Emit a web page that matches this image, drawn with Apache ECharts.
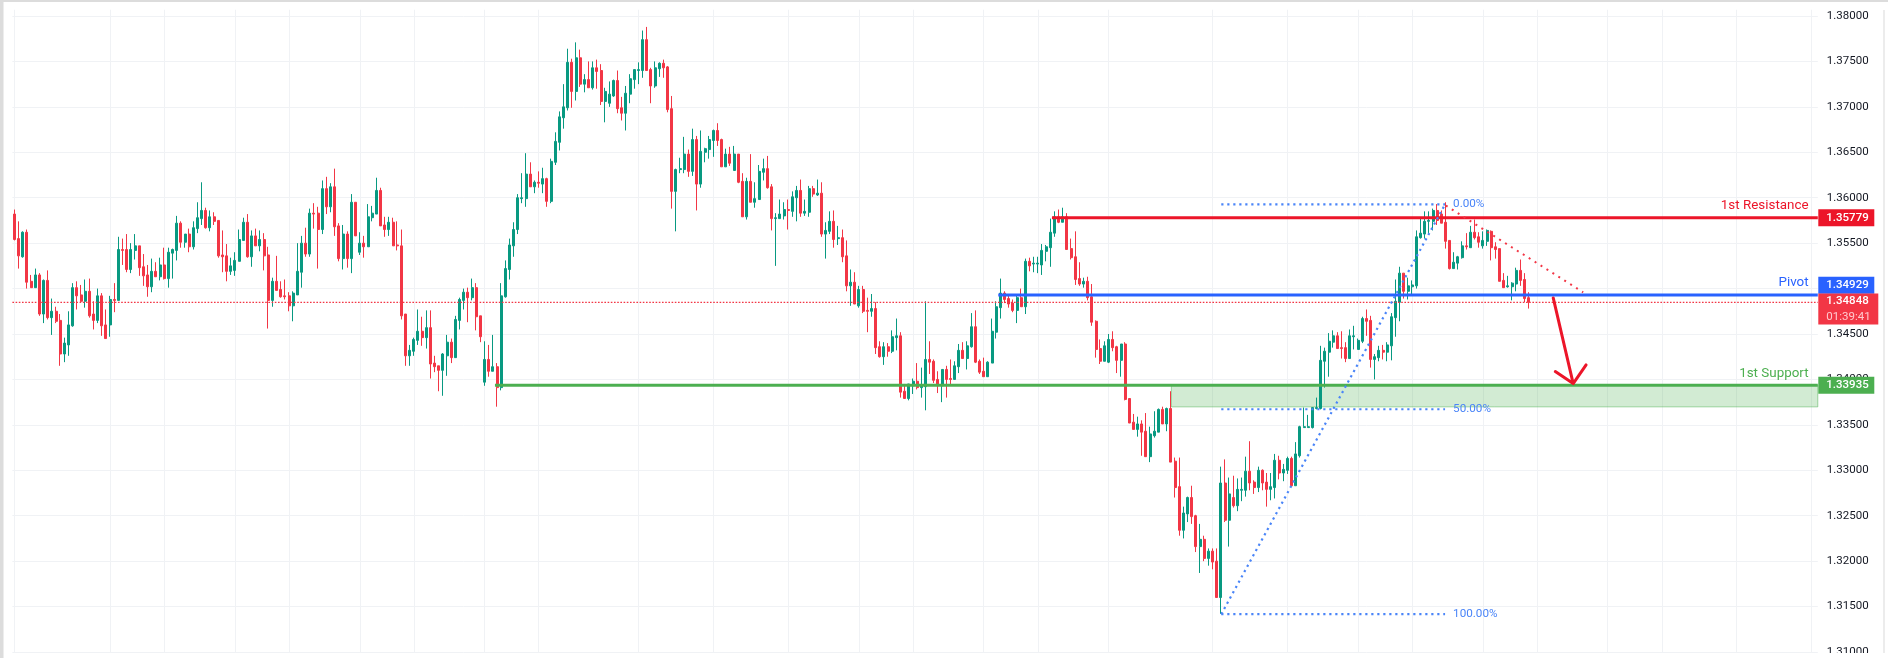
<!DOCTYPE html>
<html>
<head>
<meta charset="utf-8">
<title>GBP 1st Resistance / Pivot / 1st Support</title>
<script src="https://cdn.jsdelivr.net/npm/echarts@6/dist/echarts.min.js"></script>
<style>
  html, body { margin: 0; padding: 0; background: #fff; }
  #chart { width: 1888px; height: 658px; }
</style>
</head>
<body>
<div id="chart"></div>
<script>
// open, close, low, high in 1/10000 of a price unit
const candles = [
[13582,13554,13553,13587],[13555,13536,13522,13574],[13535,13562,13534,13563],[13562,13507,13500,13565],[13508,13501,13501,13515],
[13501,13515,13501,13522],[13515,13472,13470,13517],[13472,13509,13462,13510],[13509,13468,13466,13520],[13468,13475,13449,13489],
[13475,13464,13462,13480],[13465,13428,13415,13472],[13428,13440,13419,13446],[13438,13460,13426,13475],[13459,13501,13458,13506],
[13501,13492,13477,13508],[13493,13486,13485,13504],[13486,13497,13479,13510],[13497,13470,13468,13511],[13472,13465,13455,13486],
[13465,13492,13462,13500],[13492,13459,13448,13495],[13460,13445,13445,13477],[13460,13488,13447,13492],[13488,13487,13474,13506],
[13487,13543,13487,13557],[13543,13542,13526,13555],[13543,13521,13518,13560],[13521,13543,13517,13550],[13542,13547,13532,13560],
[13547,13523,13514,13547],[13524,13514,13503,13538],[13515,13502,13491,13526],[13502,13519,13496,13533],[13519,13513,13513,13529],
[13513,13526,13509,13534],[13526,13511,13510,13545],[13511,13540,13501,13545],[13539,13543,13511,13544],[13542,13572,13531,13580],
[13572,13551,13545,13574],[13551,13560,13545,13560],[13560,13546,13540,13566],[13546,13567,13543,13574],[13566,13578,13561,13595],
[13577,13586,13570,13617],[13586,13567,13566,13589],[13567,13579,13563,13586],[13579,13574,13570,13584],[13575,13536,13534,13575],
[13537,13535,13518,13564],[13536,13519,13508,13549],[13519,13525,13515,13534],[13520,13531,13514,13540],[13530,13554,13530,13565],
[13553,13573,13553,13578],[13573,13535,13534,13582],[13535,13558,13524,13564],[13558,13547,13547,13566],[13547,13554,13541,13564],
[13554,13536,13520,13561],[13537,13487,13456,13546],[13487,13508,13480,13512],[13508,13498,13498,13536],[13499,13491,13490,13508],
[13492,13491,13488,13510],[13492,13481,13475,13496],[13481,13495,13464,13497],[13493,13519,13493,13550],[13518,13550,13501,13558],
[13550,13538,13535,13567],[13538,13583,13535,13588],[13583,13582,13566,13594],[13583,13565,13522,13590],[13565,13610,13560,13619],
[13610,13590,13582,13623],[13590,13612,13584,13616],[13612,13568,13558,13632],[13569,13533,13530,13572],[13533,13560,13521,13570],
[13560,13533,13523,13563],[13533,13595,13517,13604],[13595,13558,13558,13595],[13540,13550,13537,13562],[13550,13546,13534,13558],
[13546,13579,13546,13593],[13578,13583,13574,13591],[13582,13608,13582,13622],[13608,13569,13569,13611],[13570,13565,13557,13579],
[13565,13573,13558,13579],[13573,13547,13547,13578],[13548,13547,13542,13574],[13547,13470,13466,13565],[13472,13426,13415,13472],
[13426,13432,13415,13438],[13431,13444,13426,13446],[13443,13453,13438,13477],[13453,13446,13437,13469],[13446,13457,13434,13476],
[13457,13417,13401,13476],[13418,13414,13408,13426],[13415,13410,13387,13415],[13410,13428,13382,13429],[13426,13441,13404,13449],
[13441,13424,13418,13445],[13424,13466,13424,13470],[13465,13488,13455,13490],[13487,13496,13477,13500],[13496,13490,13463,13501],
[13490,13501,13487,13511],[13501,13469,13454,13506],[13470,13447,13441,13470],[13397,13422,13393,13442],[13422,13409,13403,13438],
[13409,13414,13409,13449],[13414,13391,13370,13418],[13391,13492,13388,13506],[13491,13522,13490,13531],[13521,13548,13510,13555],
[13547,13565,13535,13573],[13565,13600,13560,13604],[13599,13600,13594,13627],[13599,13626,13590,13649],[13626,13612,13612,13639],
[13612,13617,13605,13619],[13617,13616,13611,13629],[13615,13621,13605,13633],[13621,13596,13590,13622],[13596,13640,13594,13643],
[13639,13662,13636,13672],[13661,13689,13652,13695],[13688,13700,13676,13725],[13699,13749,13696,13764],[13749,13717,13699,13753],
[13717,13754,13707,13771],[13754,13725,13722,13763],[13725,13730,13716,13736],[13730,13721,13721,13750],[13721,13743,13719,13750],
[13743,13739,13720,13752],[13740,13706,13702,13747],[13706,13717,13683,13721],[13704,13714,13700,13728],[13712,13729,13711,13730],
[13729,13698,13693,13740],[13699,13693,13685,13711],[13693,13715,13674,13723],[13714,13731,13704,13736],[13730,13741,13720,13741],
[13740,13741,13725,13749],[13740,13774,13732,13784],[13774,13740,13740,13788],[13741,13723,13704,13743],[13723,13743,13721,13750],
[13742,13748,13733,13749],[13748,13743,13732,13752],[13744,13697,13694,13745],[13698,13607,13588,13712],[13607,13631,13563,13632],
[13631,13632,13627,13644],[13631,13648,13627,13667],[13648,13629,13623,13653],[13629,13664,13624,13676],[13664,13615,13586,13668],
[13615,13651,13611,13674],[13650,13654,13639,13655],[13653,13664,13643,13668],[13663,13674,13645,13675],[13674,13663,13657,13682],
[13664,13634,13634,13665],[13634,13648,13634,13654],[13648,13638,13635,13656],[13630,13648,13630,13657],[13648,13617,13616,13648],
[13618,13579,13579,13627],[13579,13618,13576,13622],[13618,13595,13595,13648],[13595,13599,13589,13617],[13598,13629,13598,13636],
[13628,13632,13619,13643],[13632,13611,13610,13646],[13612,13577,13564,13615],[13577,13578,13525,13583],[13577,13582,13577,13598],
[13580,13587,13576,13595],[13587,13586,13565,13598],[13585,13601,13579,13607],[13600,13608,13574,13613],[13608,13583,13579,13620],
[13583,13585,13580,13598],[13584,13610,13579,13613],[13610,13604,13601,13613],[13603,13605,13602,13620],[13605,13560,13557,13617],
[13560,13564,13533,13573],[13563,13574,13560,13585],[13574,13554,13545,13586],[13555,13556,13548,13569],[13556,13535,13529,13565],
[13536,13503,13497,13553],[13503,13507,13481,13521],[13507,13483,13483,13518],[13481,13499,13479,13503],[13499,13475,13473,13503],
[13476,13475,13452,13490],[13475,13478,13469,13494],[13478,13435,13428,13485],[13436,13425,13424,13442],[13425,13436,13416,13441],
[13436,13431,13425,13440],[13431,13447,13429,13454],[13446,13448,13432,13467],[13448,13386,13380,13452],[13387,13379,13379,13395],
[13379,13395,13377,13395],[13393,13398,13384,13401],[13398,13391,13389,13418],[13391,13393,13380,13413],[13392,13422,13366,13486],
[13422,13419,13406,13442],[13420,13399,13396,13422],[13400,13393,13385,13409],[13393,13411,13375,13411],[13411,13400,13380,13415],
[13401,13400,13393,13422],[13400,13415,13400,13420],[13414,13432,13407,13439],[13432,13423,13423,13441],[13423,13437,13411,13442],
[13436,13458,13435,13473],[13458,13419,13418,13476],[13420,13408,13406,13422],[13409,13403,13403,13424],[13403,13419,13403,13420],
[13418,13453,13418,13467],[13452,13480,13445,13486],[13479,13495,13467,13511],[13495,13488,13484,13497],[13489,13483,13479,13494],
[13484,13476,13474,13488],[13476,13490,13462,13492],[13490,13480,13480,13500],[13480,13530,13472,13533],[13530,13525,13519,13534],
[13527,13528,13518,13535],[13527,13528,13517,13535],[13526,13542,13515,13549],[13541,13546,13530,13548],[13545,13562,13524,13577],
[13561,13579,13557,13585],[13579,13573,13572,13587],[13573,13579,13573,13589],[13579,13543,13543,13583],[13544,13534,13532,13555],
[13535,13510,13504,13563],[13511,13505,13503,13529],[13505,13508,13501,13512],[13508,13490,13487,13513],[13491,13463,13459,13505],
[13464,13433,13424,13465],[13434,13420,13417,13444],[13420,13437,13420,13442],[13419,13444,13418,13450],[13444,13435,13431,13453],
[13436,13421,13407,13437],[13421,13439,13403,13439],[13439,13378,13377,13441],[13379,13352,13352,13379],[13353,13345,13345,13362],
[13345,13351,13337,13359],[13351,13342,13316,13355],[13343,13315,13315,13363],[13315,13340,13309,13348],[13338,13343,13336,13365],
[13342,13367,13342,13368],[13367,13351,13351,13370],[13351,13368,13343,13369],[13368,13309,13309,13387],[13310,13281,13270,13314],
[13282,13234,13228,13314],[13234,13253,13225,13260],[13252,13270,13243,13271],[13270,13249,13241,13283],[13250,13216,13210,13251],
[13216,13224,13187,13241],[13224,13203,13200,13228],[13203,13211,13195,13214],[13211,13199,13191,13214],[13200,13160,13160,13214],
[13160,13286,13142,13304],[13286,13245,13243,13312],[13245,13274,13216,13292],[13270,13261,13259,13294],[13261,13279,13255,13291],
[13278,13279,13266,13292],[13278,13299,13271,13315],[13299,13286,13278,13332],[13287,13281,13274,13289],[13281,13300,13276,13304],
[13300,13286,13278,13301],[13287,13279,13260,13297],[13279,13282,13267,13297],[13281,13311,13269,13318],[13311,13297,13290,13316],
[13297,13301,13288,13307],[13300,13313,13296,13315],[13313,13283,13282,13315],[13283,13318,13283,13331],[13316,13348,13314,13349],
[13347,13348,13347,13369],[13347,13348,13347,13361],[13347,13369,13346,13369],[13368,13369,13367,13380],[13368,13421,13367,13437],
[13420,13431,13391,13435],[13430,13442,13403,13451],[13441,13448,13435,13454],[13448,13434,13434,13452],[13435,13434,13423,13453],
[13435,13423,13419,13441],[13423,13448,13423,13455],[13447,13448,13433,13459],[13433,13443,13433,13445],[13442,13467,13440,13469],
[13467,13464,13448,13477],[13465,13422,13413,13470],[13422,13425,13400,13428],[13424,13432,13420,13437],[13432,13430,13422,13438],
[13430,13438,13420,13441],[13437,13469,13421,13473],[13468,13486,13447,13510],[13485,13517,13464,13524],[13517,13497,13489,13517],
[13497,13503,13488,13512],[13502,13504,13493,13509],[13503,13557,13500,13564],[13556,13561,13555,13578],[13560,13574,13555,13585],
[13574,13575,13561,13585],[13574,13586,13564,13588],[13586,13575,13570,13593],[13582,13572,13572,13586],[13573,13552,13544,13595],
[13553,13522,13521,13553],[13522,13529,13522,13540],[13528,13535,13521,13536],[13534,13547,13533,13552],[13547,13546,13543,13561],
[13545,13562,13545,13569],[13562,13556,13554,13576],[13557,13551,13545,13562],[13547,13553,13544,13563],[13552,13564,13547,13565],
[13563,13545,13531,13564],[13546,13543,13533,13551],[13544,13508,13508,13544],[13509,13501,13501,13517],[13502,13503,13501,13514],
[13502,13506,13487,13507],[13505,13520,13497,13523],[13520,13509,13503,13532],[13510,13489,13485,13517],[13490,13485,13478,13496],
];
const barSlots = 434; // room for the empty bars on the right of the last candle
const yTicks = [1.31, 1.315, 1.32, 1.325, 1.33, 1.335, 1.34, 1.345, 1.35, 1.355, 1.36, 1.365, 1.37, 1.375, 1.38];
const gridBars = [0, 23, 36, 53, 66, 83, 96, 113, 126, 150, 168, 186, 203, 216, 233, 246, 263, 288, 306, 323, 336, 353, 366, 383, 396, 414, 432];

const resistancePrice = 1.35779;
const pivotPrice = 1.34929;
const supportPrice = 1.33935;
const zoneBottomPrice = 1.33698;
const lastPrice = 1.34848;
const countdown = '01:39:41';

const fibPrices = [1.35927, 1.33672, 1.31416];
const fibNames = ['0.00%', '50.00%', '100.00%'];
const fibBars = [290.1, 343.9];
const trendLine = [[344.1, 1.35913], [377.1, 1.34959]];
const arrowPath = [[369.9, 1.34897], [374.7, 1.33954], [370.4, 1.34087], [374.7, 1.33954], [377.8, 1.3416]];

const RED = '#f23645';
const GREEN = '#089981';
const LINE_RED = '#ec1529';
const LINE_BLUE = '#2962ff';
const LINE_GREEN = '#4caf50';
const FIB_BLUE = '#4a85f8';
const FONT = 'Roboto';
const rightBar = barSlots - 0.5;

// invisible anchor with a text on it
const textPoint = (bar, price, label) => ({
  coord: [bar, price],
  symbol: 'rect',
  symbolSize: 1,
  itemStyle: { color: 'transparent' },
  label: { show: true, fontFamily: FONT, ...label },
});

const priceTag = (price, text, color, offsetY) => textPoint(rightBar, price, {
  position: 'right',
  distance: 0,
  offset: [0, offsetY],
  formatter: text,
  color: '#fff',
  fontSize: 11.5,
  fontWeight: 500,
  backgroundColor: color,
  width: 48,
  height: 17,
  lineHeight: 17,
  padding: [0, 0, 0, 8],
});

const levelSeries = (name, startBar, price, color, tagOffset, extra) => ({
  type: 'line',
  xAxisIndex: 1,
  yAxisIndex: 0,
  z: 4,
  silent: true,
  showSymbol: false,
  clip: false,
  data: [[startBar, price], [rightBar, price]],
  lineStyle: { color, width: 3 },
  markPoint: {
    silent: true,
    z: 8,
    data: [
      textPoint(431.4, price, { position: 'left', distance: 0, offset: [0, -12], formatter: name, color, fontSize: 13.4 }),
      priceTag(price, price.toFixed(5), color, tagOffset),
    ],
  },
  ...extra,
});

const fibSeries = fibPrices.map((price, i) => ({
  type: 'line',
  xAxisIndex: 1,
  yAxisIndex: 0,
  z: 5,
  silent: true,
  showSymbol: false,
  data: [[fibBars[0], price], [fibBars[1], price]],
  lineStyle: { color: FIB_BLUE, width: 2.2, type: [2.2, 3.8] },
  markPoint: {
    silent: true,
    data: [textPoint(fibBars[1] + 1.8, price, { position: 'right', distance: 0, formatter: fibNames[i], color: FIB_BLUE, fontSize: 11.7 })],
  },
}));

const chart = echarts.init(document.getElementById('chart'), null, { renderer: 'canvas' });

chart.setOption({
  animation: false,
  backgroundColor: '#fff',
  grid: { left: 12.4, width: 1805.4, top: 9.74, height: 642.5 },
  xAxis: [
    { type: 'category', data: Array.from({ length: barSlots }, (_, i) => i), show: false },
    { type: 'value', min: -0.5, max: rightBar, show: false },
  ],
  yAxis: [{
    type: 'value',
    position: 'right',
    min: 1.31,
    max: 1.38069,
    interval: 0.005,
    axisLine: { show: false },
    axisTick: { show: false },
    axisLabel: {
      customValues: yTicks,
      formatter: (v) => v.toFixed(5),
      margin: 9,
      color: '#131722',
      fontFamily: FONT,
      fontSize: 11.5,
    },
    splitLine: { showMaxLine: false, lineStyle: { color: '#f0f2f5', width: 1 } },
  }],
  series: [
    {
      // vertical grid
      type: 'line',
      xAxisIndex: 1,
      yAxisIndex: 0,
      silent: true,
      data: [],
      markLine: {
        silent: true,
        z: 0,
        symbol: 'none',
        label: { show: false },
        lineStyle: { color: '#f0f2f5', width: 1, type: 'solid' },
        data: gridBars.map((bar) => ({ xAxis: bar })),
      },
    },
    {
      type: 'candlestick',
      xAxisIndex: 0,
      yAxisIndex: 0,
      z: 3,
      barWidth: 2.5,
      silent: true,
      data: candles.map((row) => row.map((v) => v / 10000)),
      itemStyle: { color: GREEN, color0: RED, borderColor: GREEN, borderColor0: RED, borderWidth: 1 },
    },
    {
      // last price line
      type: 'line',
      xAxisIndex: 1,
      yAxisIndex: 0,
      z: 4,
      silent: true,
      showSymbol: false,
      clip: false,
      data: [[-0.5, lastPrice], [rightBar, lastPrice]],
      lineStyle: { color: RED, width: 1.2, type: [1.6, 1.6] },
    },
    levelSeries('1st Resistance', 249.4, resistancePrice, LINE_RED, 0),
    levelSeries('Pivot', 236.5, pivotPrice, LINE_BLUE, -9.8),
    levelSeries('1st Support', 115.5, supportPrice, LINE_GREEN, 0, {
      markArea: {
        silent: true,
        itemStyle: { color: 'rgba(76,175,80,0.25)', borderColor: 'rgba(76,175,80,0.5)', borderWidth: 1 },
        data: [[{ coord: [278.1, supportPrice] }, { coord: [rightBar, zoneBottomPrice] }]],
      },
    }),
    ...fibSeries,
    {
      // fib trend line
      type: 'line',
      xAxisIndex: 1,
      yAxisIndex: 0,
      z: 5,
      silent: true,
      showSymbol: false,
      data: [[fibBars[0], fibPrices[2]], [fibBars[1], fibPrices[0]]],
      lineStyle: { color: FIB_BLUE, width: 2.2, type: [2.2, 3.8] },
    },
    {
      type: 'line',
      xAxisIndex: 1,
      yAxisIndex: 0,
      z: 5,
      silent: true,
      showSymbol: false,
      data: trendLine,
      lineStyle: { color: RED, width: 2, type: [2, 5] },
    },
    {
      type: 'line',
      xAxisIndex: 1,
      yAxisIndex: 0,
      z: 6,
      silent: true,
      showSymbol: false,
      data: arrowPath,
      lineStyle: { color: LINE_RED, width: 3, cap: 'round', join: 'round' },
    },
    {
      // last price tag
      type: 'line',
      xAxisIndex: 1,
      yAxisIndex: 0,
      silent: true,
      showSymbol: false,
      data: [],
      markPoint: {
        silent: true,
        z: 9,
        data: [textPoint(rightBar, lastPrice, {
          position: 'right',
          distance: 0,
          offset: [0, 6.7],
          align: 'left',
          formatter: `{a|${lastPrice.toFixed(5)}}\n{b|${countdown}}`,
          backgroundColor: RED,
          width: 52,
          height: 31,
          padding: [0, 0, 0, 8],
          rich: {
            a: { color: '#fff', fontFamily: FONT, fontSize: 11.5, fontWeight: 500, lineHeight: 15.5 },
            b: { color: '#ffc9ce', fontFamily: FONT, fontSize: 11.5, lineHeight: 15.5 },
          },
        })],
      },
    },
  ],
  graphic: [
    // pane cuts the lowest tick label, plus the frame strips of the screenshot
    { type: 'rect', z: 100, shape: { x: 1819, y: 653, width: 62, height: 5 }, style: { fill: '#fff' } },
    { type: 'rect', z: 100, shape: { x: 0, y: 0, width: 1888, height: 2 }, style: { fill: '#dcdcdc' } },
    { type: 'rect', z: 100, shape: { x: 0, y: 0, width: 3.5, height: 658 }, style: { fill: '#dcdcdc' } },
    { type: 'rect', z: 100, shape: { x: 1883, y: 10, width: 2, height: 643 }, style: { fill: '#ececec' } },
  ],
});
</script>
</body>
</html>
